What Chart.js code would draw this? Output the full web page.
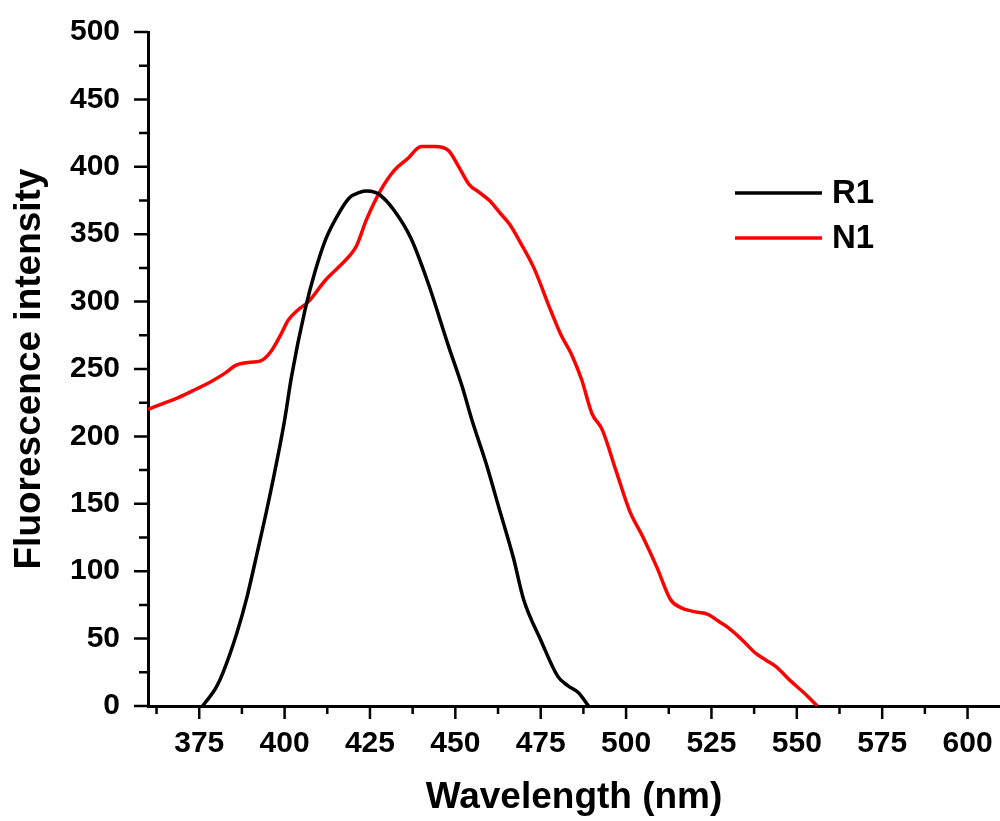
<!DOCTYPE html>
<html>
<head>
<meta charset="utf-8">
<title>Fluorescence spectra R1 / N1</title>
<script src="https://cdn.jsdelivr.net/npm/chart.js@4.4.1/dist/chart.umd.min.js"></script>
<style>
  html, body { margin: 0; padding: 0; background: #fff; }
  #wrap { width: 1000px; height: 821px; }
</style>
</head>
<body>
<div id="wrap"><canvas id="chart" width="1000" height="821"></canvas></div>
<script>
// values
const r1Wavelength = [376, 380, 382, 386, 389, 392, 395, 398, 400, 402, 406, 409, 412, 416, 419, 422, 424, 426.5, 428, 432, 437, 442, 448, 452, 455, 459, 463, 467, 470, 475, 480, 483, 486, 489];
const r1Intensity  = [0, 14, 25, 54, 81, 114, 148, 185, 212, 244, 294, 323, 346, 366, 377, 381, 382, 381, 379, 368, 347, 314, 267, 237, 211, 180, 145, 110, 79, 49, 22, 15, 10, 0];

const n1Wavelength = [360, 364, 369, 374, 378, 382, 386, 390, 393, 396, 399, 401, 404, 407, 412, 416, 419, 421, 424, 428, 432, 436, 440, 444, 448, 451, 454, 457, 460, 463, 466, 469, 473, 478, 481, 484, 487, 490, 493, 497, 501, 505, 509, 513, 516, 520, 524, 527, 530, 534, 538, 541, 544, 548, 552, 556];
const n1Intensity  = [220, 224, 229, 235, 240, 246, 253, 255, 256, 263, 276, 286, 294, 300, 316, 326, 334, 341, 361, 382, 397, 406, 415, 415, 412, 400, 387, 381, 375, 366, 357, 344, 325, 293, 275, 261, 242, 217, 205, 175, 145, 125, 103, 79, 73, 70, 68, 63, 58, 49, 39, 34, 29, 19, 10, 0];

const xTicks = [375, 400, 425, 450, 475, 500, 525, 550, 575, 600];
const yTicks = [0, 50, 100, 150, 200, 250, 300, 350, 400, 450, 500];

const FONT = '"Liberation Sans", Arial, sans-serif';

const toPoints = (xs, ys) => xs.map((x, i) => ({ x: x, y: ys[i] }));

// Origin style tick marks, major + minor, pointing outward
const tickMarks = {
  id: 'tickMarks',
  afterDraw(chart) {
    const { ctx, scales: { x, y } } = chart;
    const xStep = xTicks[1] - xTicks[0];
    const yStep = yTicks[1] - yTicks[0];
    ctx.save();
    ctx.strokeStyle = '#000';
    ctx.lineWidth = 2.5;
    ctx.beginPath();
    xTicks.forEach(v => {
      const px = x.getPixelForValue(v);
      ctx.moveTo(px, y.bottom); ctx.lineTo(px, y.bottom + 13);
      [v - xStep / 2, v + xStep / 2].forEach(m => {
        if (m < x.min || m > x.max || (m > v && xTicks.includes(m + xStep / 2))) return;
        const pm = x.getPixelForValue(m);
        ctx.moveTo(pm, y.bottom); ctx.lineTo(pm, y.bottom + 8);
      });
    });
    yTicks.forEach(v => {
      const py = y.getPixelForValue(v);
      ctx.moveTo(x.left, py); ctx.lineTo(x.left - 14, py);
      const m = v + yStep / 2;
      if (m < y.max) {
        const pm = y.getPixelForValue(m);
        ctx.moveTo(x.left, pm); ctx.lineTo(x.left - 9, pm);
      }
    });
    ctx.stroke();
    ctx.restore();
  }
};

const lineLegend = {
  id: 'lineLegend',
  afterDraw(chart) {
    const { ctx } = chart;
    ctx.save();
    chart.data.datasets.forEach((ds, i) => {
      const yy = 193 + i * 45;
      ctx.strokeStyle = ds.borderColor;
      ctx.lineWidth = 3.5;
      ctx.beginPath();
      ctx.moveTo(735, yy); ctx.lineTo(822, yy);
      ctx.stroke();
      ctx.fillStyle = '#000';
      ctx.font = 'bold 33px ' + FONT;
      ctx.textBaseline = 'middle';
      ctx.textAlign = 'left';
      ctx.fillText(ds.label, 832, yy + 1);
    });
    ctx.restore();
  }
};

const ctx = document.getElementById('chart').getContext('2d');
const chart = new Chart(ctx, {
  type: 'scatter',
  data: {
    datasets: [
      {
        label: 'R1',
        data: toPoints(r1Wavelength, r1Intensity),
        showLine: true,
        borderColor: '#000000',
        backgroundColor: '#000000',
        borderWidth: 3.5,
        pointRadius: 0,
        cubicInterpolationMode: 'monotone',
      },
      {
        label: 'N1',
        data: toPoints(n1Wavelength, n1Intensity),
        showLine: true,
        borderColor: '#ff0000',
        backgroundColor: '#ff0000',
        borderWidth: 3.5,
        pointRadius: 0,
        cubicInterpolationMode: 'monotone',
      },
    ],
  },
  options: {
    responsive: false,
    animation: false,
    layout: { padding: { top: 32, right: 0, left: 0, bottom: 0 } },
    plugins: {
      legend: { display: false },
      tooltip: { enabled: false },
    },
    scales: {
      x: {
        type: 'linear',
        min: 360,
        max: 609.5,
        afterBuildTicks: (s) => { s.ticks = xTicks.map(v => ({ value: v })); },
        afterFit: (s) => { s.height = 115; s.paddingLeft = 0; s.paddingRight = 0; },
        grid: { display: true, drawOnChartArea: false, drawTicks: false },
        border: { display: true, color: '#000', width: 3 },
        ticks: {
          color: '#000',
          padding: 20,
          maxRotation: 0,
          font: { family: FONT, size: 30, weight: 'bold' },
        },
        title: {
          display: true,
          text: 'Wavelength (nm)',
          color: '#000',
          padding: { top: 0, bottom: 1 },
          font: { family: FONT, size: 37, weight: 'bold' },
        },
      },
      y: {
        type: 'linear',
        min: 0,
        max: 500,
        afterBuildTicks: (s) => { s.ticks = yTicks.map(v => ({ value: v })); },
        afterFit: (s) => { s.width = 148; s.paddingTop = 0; s.paddingBottom = 0; },
        grid: { display: true, drawOnChartArea: false, drawTicks: false },
        border: { display: true, color: '#000', width: 3 },
        ticks: {
          color: '#000',
          padding: 28,
          font: { family: FONT, size: 30, weight: 'bold' },
        },
        title: {
          display: true,
          text: 'Fluorescence intensity',
          color: '#000',
          padding: { top: 8, bottom: 0 },
          font: { family: FONT, size: 37, weight: 'bold' },
        },
      },
    },
  },
  plugins: [tickMarks, lineLegend],
});
</script>
</body>
</html>
